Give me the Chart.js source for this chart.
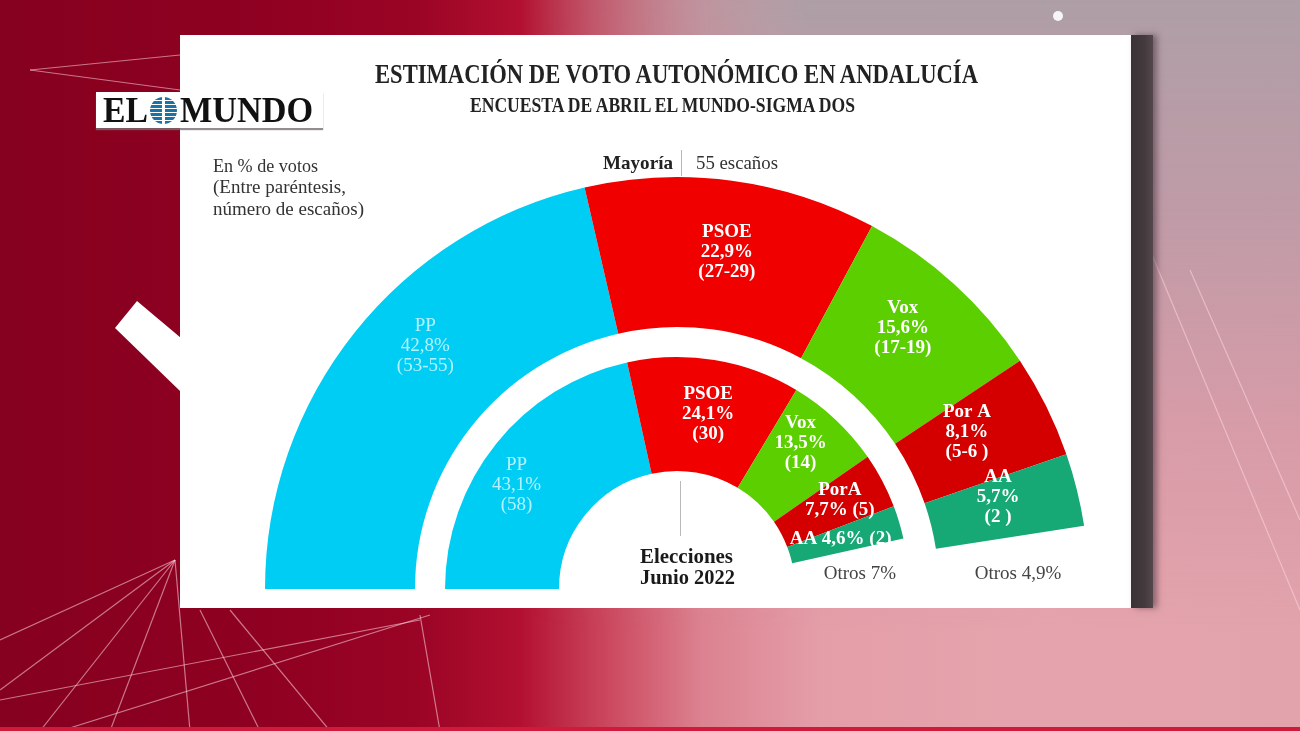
<!DOCTYPE html>
<html lang="es">
<head>
<meta charset="utf-8">
<title>Estimación de voto autonómico en Andalucía</title>
<script src="https://cdn.jsdelivr.net/npm/chart.js@4.4.1/dist/chart.umd.min.js"></script>
<style>
html,body{margin:0;padding:0;width:1300px;height:731px;overflow:hidden;}
body{position:relative;font-family:"Liberation Serif","DejaVu Serif",serif;
 background:linear-gradient(90deg,#86001f 0%,#8f0021 20%,#9a0425 32%,#b31030 40%,#cc4a60 47%,#dc8290 54%,#e49ea8 63%,#e5a4ad 80%,#e3a3ac 100%);}
#topfade{position:absolute;left:0;top:0;width:1300px;height:731px;
 background:linear-gradient(180deg,rgba(174,158,166,1) 0%,rgba(186,154,166,.9) 28%,rgba(204,150,164,.55) 58%,rgba(222,152,166,0) 86%);
 -webkit-mask-image:linear-gradient(90deg,transparent 0%,transparent 40%,#000 62%,#000 100%);
 mask-image:linear-gradient(90deg,transparent 0%,transparent 40%,#000 62%,#000 100%);}
#deco{position:absolute;left:0;top:0;}
#stripe{position:absolute;left:0;top:727px;width:1300px;height:4px;background:#cf1a3c;}
#card{position:absolute;left:180px;top:35px;width:951px;height:573px;background:#fff;}
#shadow{position:absolute;left:1131px;top:35px;width:22px;height:573px;
 background:linear-gradient(90deg,#3a3235 0%,#433a3d 60%,#55474c 100%);box-shadow:4px 0 6px rgba(70,50,60,.55);}
#logo{position:absolute;left:96px;top:92px;width:227px;height:36px;background:#fff;box-shadow:0 2px 1px rgba(120,110,115,.8);}
.t{position:absolute;white-space:nowrap;display:inline-block;transform-origin:0 50%;}
#globe{position:absolute;left:150px;top:97px;width:27px;height:27px;border-radius:50%;overflow:hidden;
 background:repeating-linear-gradient(180deg,#1b72a6 0px,#1b72a6 3px,#ffffff 3px,#ffffff 4px);}
#globe:after{content:"";position:absolute;left:12px;top:0;width:3px;height:27px;background:#fff;}
.vline{position:absolute;width:1px;background:#b9b9b9;}
#c{position:absolute;left:0;top:0;}
</style>
</head>
<body>
<div id="topfade"></div>
<svg id="deco" width="1300" height="731">
 <polygon points="115,328 137,301 181,338 181,392" fill="#ffffff"/>
 <g stroke="rgba(255,215,225,0.55)" stroke-width="1.2" fill="none">
  <line x1="175" y1="560" x2="0" y2="690"/>
  <line x1="175" y1="560" x2="40" y2="731"/>
  <line x1="175" y1="560" x2="110" y2="731"/>
  <line x1="175" y1="560" x2="190" y2="731"/>
  <line x1="175" y1="560" x2="0" y2="640"/>
  <line x1="0" y1="700" x2="420" y2="620"/>
  <line x1="60" y1="731" x2="430" y2="615"/>
  <line x1="200" y1="610" x2="260" y2="731"/>
  <line x1="230" y1="610" x2="330" y2="731"/>
  <line x1="420" y1="615" x2="440" y2="731"/>
  <line x1="30" y1="70" x2="180" y2="55"/>
  <line x1="30" y1="70" x2="180" y2="90"/>
  <line x1="1190" y1="270" x2="1300" y2="520"/>
  <line x1="1150" y1="250" x2="1300" y2="610"/>
 </g>
 <circle cx="1058" cy="16" r="5" fill="rgba(255,255,255,0.9)"/>
</svg>
<div id="stripe"></div>
<div id="card"></div>
<div id="shadow"></div>
<div id="logo"></div>
<span class="t" data-w="45" style="left:103px;top:92px;font-size:36px;line-height:36px;font-weight:bold;color:#111;">EL</span>
<div id="globe"></div>
<span class="t" data-w="133" style="left:180px;top:92px;font-size:36px;line-height:36px;font-weight:bold;color:#111;">MUNDO</span>

<span class="t" data-w="603" style="left:375px;top:61px;font-size:27px;line-height:27px;font-weight:bold;color:#222;">ESTIMACIÓN DE VOTO AUTONÓMICO EN ANDALUCÍA</span>
<span class="t" data-w="385" style="left:470px;top:95px;font-size:20px;line-height:20px;font-weight:bold;color:#222;">ENCUESTA DE ABRIL EL MUNDO-SIGMA DOS</span>

<span class="t" data-w="105" style="left:213px;top:157px;font-size:18px;line-height:18px;color:#333;">En % de votos</span>
<span class="t" data-w="133" style="left:213px;top:178px;font-size:18px;line-height:18px;color:#333;">(Entre paréntesis,</span>
<span class="t" data-w="151" style="left:213px;top:200px;font-size:18px;line-height:18px;color:#333;">número de escaños)</span>

<span class="t" data-w="70" style="left:603px;top:153px;font-size:19px;line-height:19px;font-weight:bold;color:#222;">Mayoría</span>
<div class="vline" style="left:681px;top:150px;height:26px;"></div>
<span class="t" data-w="82" style="left:696px;top:153px;font-size:19px;line-height:19px;color:#333;">55 escaños</span>

<div class="vline" style="left:680px;top:481px;height:55px;"></div>
<span class="t" data-w="93" style="left:640px;top:546px;font-size:20px;line-height:20px;font-weight:bold;color:#1a1a1a;">Elecciones</span>
<span class="t" data-w="95" style="left:640px;top:567px;font-size:20px;line-height:20px;font-weight:bold;color:#1a1a1a;">Junio 2022</span>

<canvas id="c" width="1300" height="731"></canvas>

<script>
// ---- Data ----
const partidos = ['PP', 'PSOE', 'Vox', 'Por A', 'AA', 'Otros'];
const partidosElecciones = ['PP', 'PSOE', 'Vox', 'PorA', 'AA', 'Otros'];
const encuestaVoto = [42.8, 22.9, 15.6, 8.1, 5.7, 4.9];
const encuestaEscanos = ['53-55', '27-29', '17-19', '5-6 ', '2 ', ''];
const eleccionesVoto = [43.1, 24.1, 13.5, 7.7, 4.6, 7];
const eleccionesEscanos = ['58', '30', '14', '5', '2', ''];
const separador = [100];

// ---- Styles ----
const colores = ['#00cdf4', '#f10000', '#5bcf00', '#d40000', '#16a875', 'rgba(0,0,0,0)'];
const fmt = v => String(v).replace('.', ',') + '%';

function lineasEncuesta(i) {
  if (i === 5) return ['Otros ' + fmt(encuestaVoto[i])];
  return [partidos[i], fmt(encuestaVoto[i]), '(' + encuestaEscanos[i] + ')'];
}
function lineasElecciones(i) {
  if (i === 5) return ['Otros ' + fmt(eleccionesVoto[i])];
  if (i === 4) return [partidosElecciones[i] + ' ' + fmt(eleccionesVoto[i]) + ' (' + eleccionesEscanos[i] + ')'];
  if (i === 3) return [partidosElecciones[i], fmt(eleccionesVoto[i]) + ' (' + eleccionesEscanos[i] + ')'];
  return [partidosElecciones[i], fmt(eleccionesVoto[i]), '(' + eleccionesEscanos[i] + ')'];
}

const arcLabels = {
  id: 'arcLabels',
  afterDatasetsDraw(chart, args, opts) {
    const ctx = chart.ctx;
    ctx.save();
    ctx.textAlign = 'center';
    ctx.textBaseline = 'middle';
    opts.rings.forEach(ring => {
      const meta = chart.getDatasetMeta(ring.dataset);
      meta.data.forEach((arc, i) => {
        const p = arc.getProps(['x', 'y', 'startAngle', 'endAngle', 'innerRadius', 'outerRadius'], true);
        const a = (p.startAngle + p.endAngle) / 2;
        const r = (p.innerRadius + p.outerRadius) / 2;
        const off = ring.offsets[i];
        const cx = p.x + Math.cos(a) * r + off[0];
        const cy = p.y + Math.sin(a) * r + off[1];
        const lines = ring.lines(i);
        const st = i === 0 ? opts.ppStyle : (i === 5 ? opts.otrosStyle : opts.baseStyle);
        ctx.font = st.font;
        ctx.fillStyle = st.color;
        const lh = opts.lineHeight;
        lines.forEach((t, k) => {
          ctx.fillText(t, cx, cy + (k - (lines.length - 1) / 2) * lh);
        });
      });
    });
    ctx.restore();
  }
};

new Chart(document.getElementById('c'), {
  type: 'doughnut',
  data: {
    labels: partidos,
    datasets: [
      { label: 'Encuesta abril', data: encuestaVoto, backgroundColor: colores, borderWidth: 0, weight: 150 },
      { label: '', data: separador, backgroundColor: 'rgba(0,0,0,0)', borderWidth: 0, weight: 30 },
      { label: 'Elecciones junio 2022', data: eleccionesVoto, backgroundColor: colores, borderWidth: 0, weight: 114 }
    ]
  },
  options: {
    responsive: false,
    animation: false,
    events: [],
    rotation: -90,
    circumference: 180,
    cutout: '28.64%',
    layout: { padding: { left: 265, right: 211, top: 177, bottom: 142 } },
    plugins: {
      legend: { display: false },
      tooltip: { enabled: false },
      arcLabels: {
        lineHeight: 20,
        baseStyle: { font: 'bold 19px "Liberation Serif", serif', color: '#ffffff' },
        ppStyle: { font: '19px "Liberation Serif", serif', color: '#b4f2ff' },
        otrosStyle: { font: '19px "Liberation Serif", serif', color: '#444444' },
        rings: [
          { dataset: 0, lines: lineasEncuesta,
            offsets: [[12, -33], [5, -3], [-1, -12], [-12, -7], [-6, -11], [5, 11]] },
          { dataset: 2, lines: lineasElecciones,
            offsets: [[-24, 6], [3, -2], [4, -18], [8, -7], [-4, 0], [9, 4]] }
        ]
      }
    }
  },
  plugins: [arcLabels]
});

// condense HTML texts to the reference widths
document.querySelectorAll('[data-w]').forEach(el => {
  const w = parseFloat(el.dataset.w);
  const nat = el.getBoundingClientRect().width;
  if (nat > 0) el.style.transform = 'scaleX(' + (w / nat).toFixed(4) + ')';
});
</script>
</body>
</html>
